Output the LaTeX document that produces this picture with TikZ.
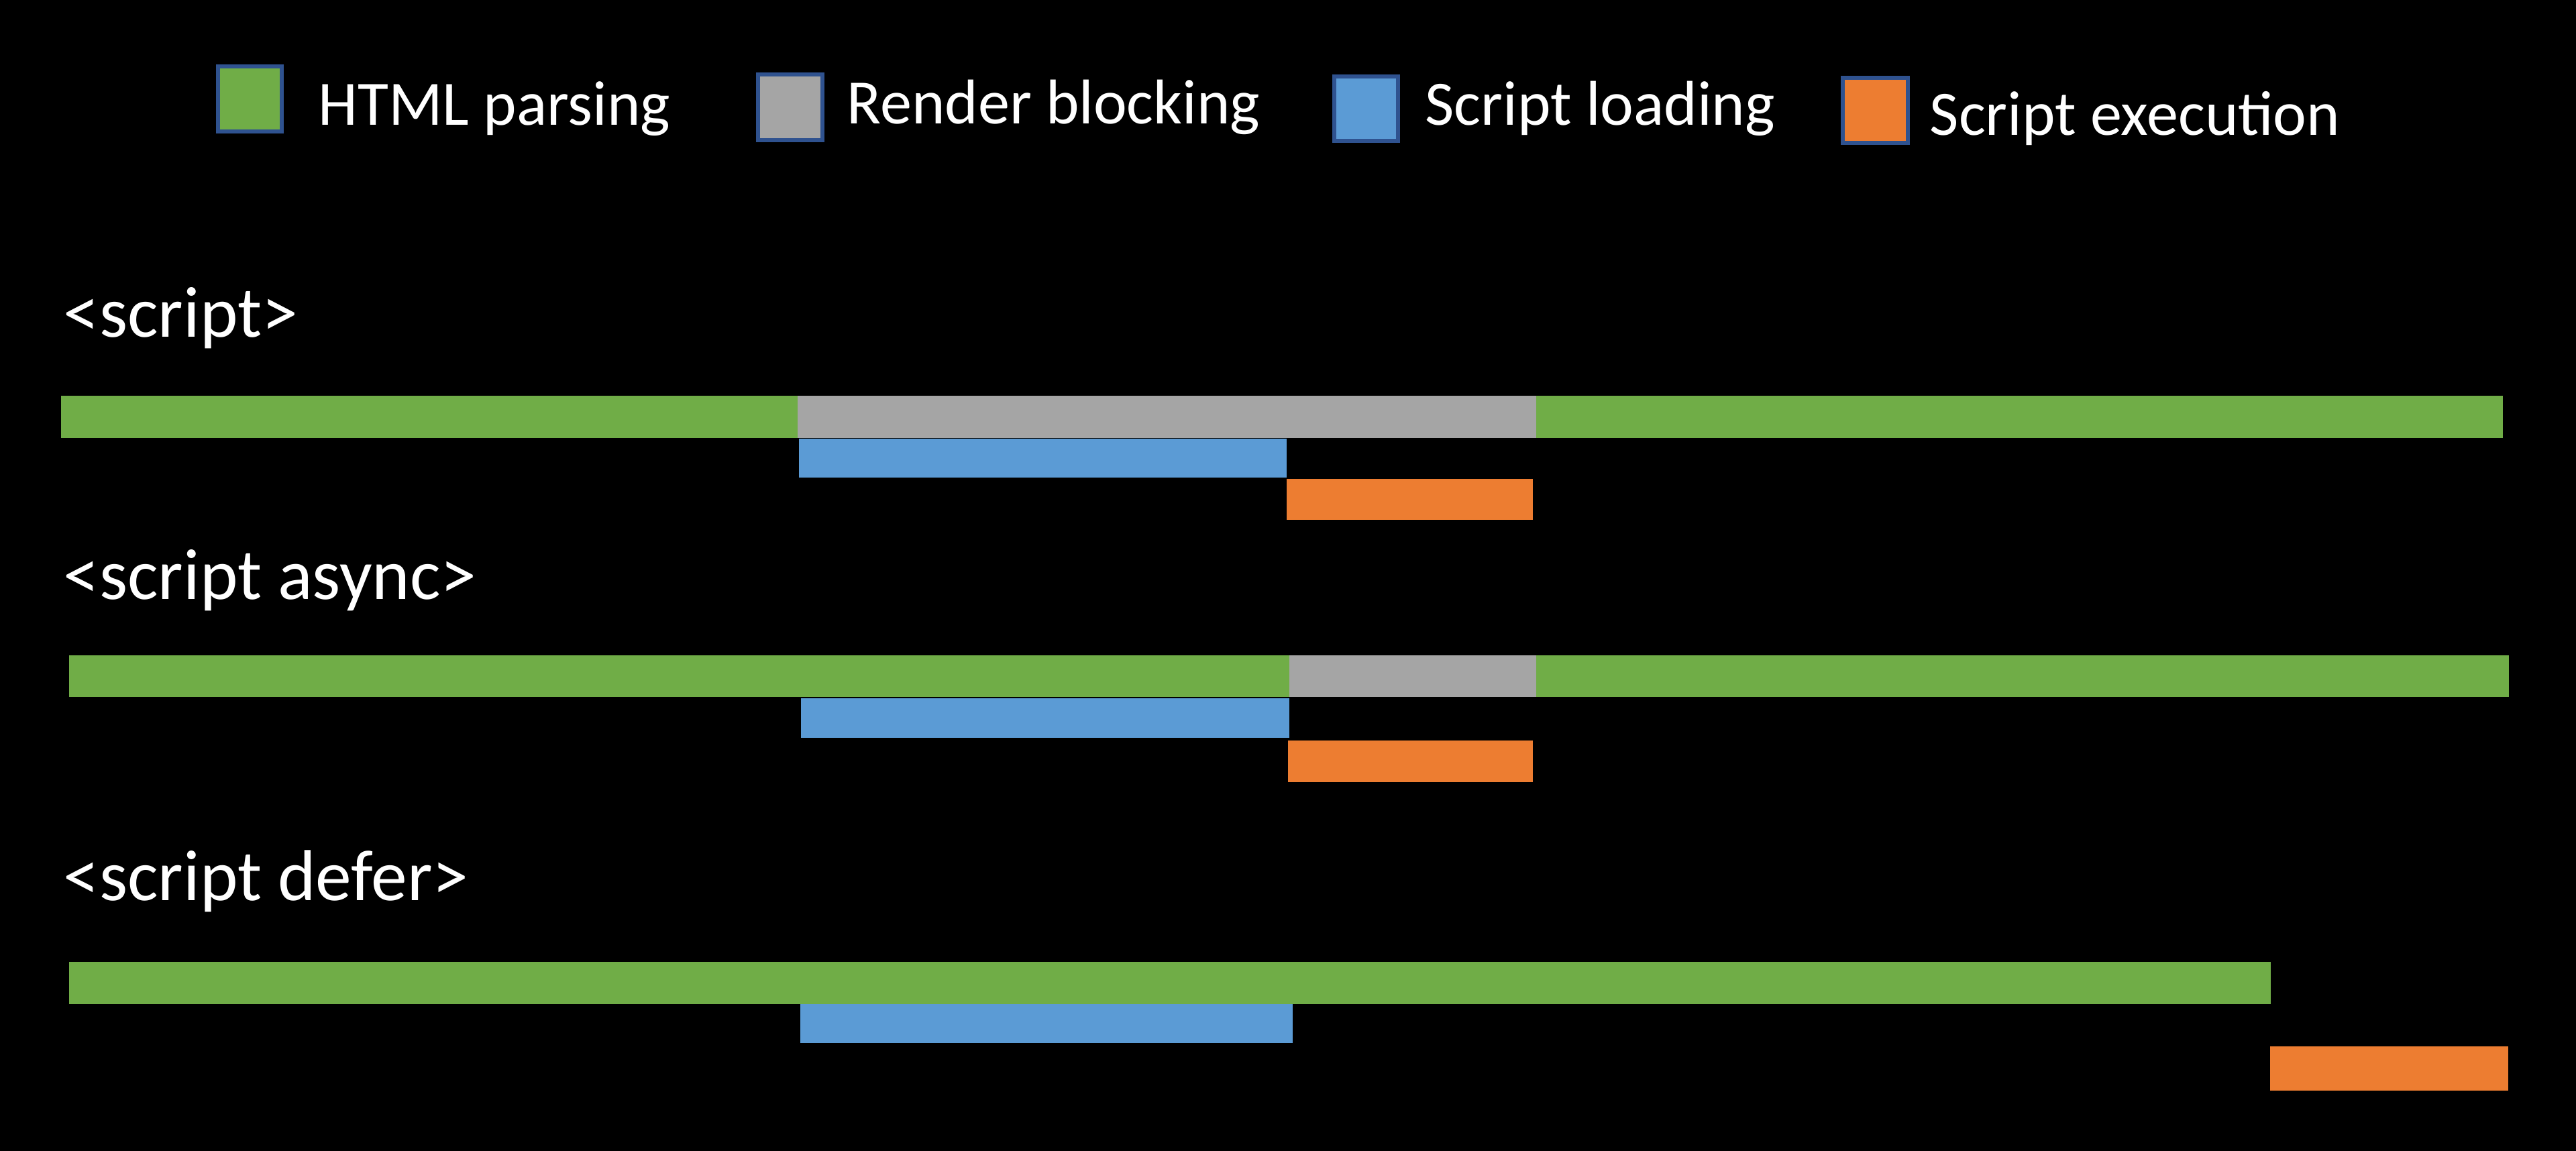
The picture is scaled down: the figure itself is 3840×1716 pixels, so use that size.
\documentclass[tikz,border=0pt]{standalone}
\usepackage{fontspec}
\setmainfont{Carlito}
\definecolor{cgreen}{RGB}{112,173,71}
\definecolor{cgray}{RGB}{165,165,165}
\definecolor{cblue}{RGB}{91,155,213}
\definecolor{corange}{RGB}{237,125,49}
\definecolor{cedge}{RGB}{47,82,143}
\tikzset{
  legbox/.style={draw=cedge, line width=1.7pt},
  legtext/.style={anchor=base west, inner sep=0pt, text=white, font=\fontsize{26.8}{32}\selectfont},
  sectext/.style={anchor=base west, inner sep=0pt, text=white, font=\fontsize{30.6}{37}\selectfont},
}
\begin{document}
\begin{tikzpicture}[x=0.01cm,y=-0.01cm]
\fill[black] (0,0) rectangle (3840,1716);
\useasboundingbox (0,0) rectangle (3840,1716);
% legend
\filldraw[legbox, fill=cgreen] (325,99) rectangle (420,196);
\node[legtext] (lhtml) at (474,187) {HTML parsing};
\filldraw[legbox, fill=cgray] (1130,111) rectangle (1226,209);
\node[legtext] (lrender) at (1262,185) {Render blocking};
\filldraw[legbox, fill=cblue] (1989,114) rectangle (2084,210);
\node[legtext] (lload) at (2124,187) {Script loading};
\filldraw[legbox, fill=corange] (2747,116) rectangle (2844,213);
\node[legtext] (lexec) at (2876,202) {Script execution};
% section labels
\node[sectext] (s1) at (94,503) {<script>};
\node[sectext] (s2) at (94,893) {<script async>};
\node[sectext] (s3) at (94,1342) {<script defer>};
% row 1
\fill[cgreen] (91,590) rectangle (1189,653);
\fill[cgray] (1189,590) rectangle (2290,653);
\fill[cgreen] (2290,590) rectangle (3731,653);
\fill[cblue] (1191,654) rectangle (1918,712);
\fill[corange] (1918,714) rectangle (2285,775);
% row 2
\fill[cgreen] (103,977) rectangle (1922,1039);
\fill[cgray] (1922,977) rectangle (2290,1039);
\fill[cgreen] (2290,977) rectangle (3740,1039);
\fill[cblue] (1194,1041) rectangle (1922,1100);
\fill[corange] (1920,1104) rectangle (2285,1166);
% row 3
\fill[cgreen] (103,1434) rectangle (3385,1497);
\fill[cblue] (1193,1497) rectangle (1927,1555);
\fill[corange] (3384,1560) rectangle (3739,1626);
\end{tikzpicture}
\end{document}
